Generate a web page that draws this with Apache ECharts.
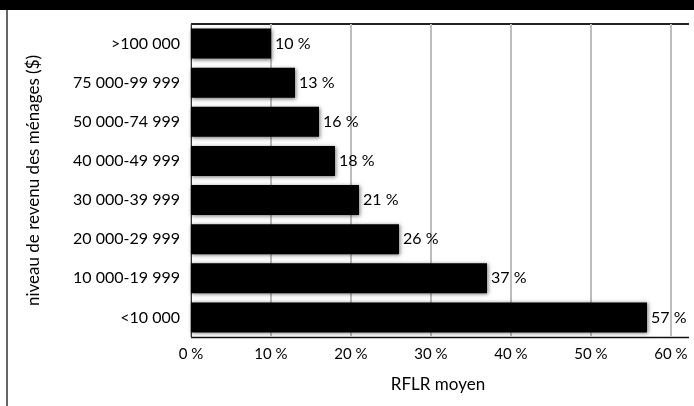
<!DOCTYPE html>
<html>
<head>
<meta charset="utf-8">
<style>
  html, body { margin: 0; padding: 0; background: #fff; }
  #chart { width: 694px; height: 406px; }
</style>
<script src="https://cdn.jsdelivr.net/npm/echarts@6/dist/echarts.min.js"></script>
</head>
<body>
<div id="chart"></div>
<script>
// income brackets, top to bottom
var categories = [">100 000", "75 000-99 999", "50 000-74 999", "40 000-49 999",
  "30 000-39 999", "20 000-29 999", "10 000-19 999", "<10 000"];
// average RFLR (%)
var rflr = [10, 13, 16, 18, 21, 26, 37, 57];
var xTicks = [0, 10, 20, 30, 40, 50, 60];

var FONT = "Lato";

var chart = echarts.init(document.getElementById("chart"));
chart.setOption({
  backgroundColor: "#fff",
  animation: false,
  textStyle: { fontFamily: FONT, color: "#000" },
  grid: { left: 191, right: 23, top: 24, bottom: 69 },
  graphic: [
    { type: "rect", shape: { x: 0, y: 0, width: 694, height: 10 }, style: { fill: "#000" } },
    { type: "rect", shape: { x: 6, y: 10, width: 2, height: 396 }, style: { fill: "#666" } },
    // frame lines run a little past the 60 % tick
    { type: "line", shape: { x1: 191, y1: 24, x2: 689, y2: 24 }, style: { stroke: "#222", lineWidth: 2 } },
    { type: "line", shape: { x1: 191, y1: 337.5, x2: 689, y2: 337.5 }, style: { stroke: "#111", lineWidth: 1.5 } },
    { type: "text", x: 438, y: 376, style: { text: "RFLR moyen", font: "17px " + FONT, fill: "#000", textAlign: "center", textVerticalAlign: "top" } }
  ],
  xAxis: {
    type: "value",
    min: xTicks[0],
    max: xTicks[xTicks.length - 1],
    interval: 10,
    axisLine: { show: false },
    axisTick: { show: false },
    axisLabel: { formatter: "{value} %", fontSize: 15, color: "#000", margin: 10, fontFamily: FONT },
    splitLine: { show: true, lineStyle: { color: "#bdbdbd", width: 2 } }
  },
  yAxis: {
    type: "category",
    data: categories,
    inverse: true,
    name: "niveau de revenu des ménages ($)",
    nameLocation: "middle",
    nameGap: 149,
    nameTextStyle: { fontSize: 17, color: "#000", fontFamily: FONT },
    axisLine: { show: true, lineStyle: { color: "#333", width: 1 } },
    axisTick: { show: false },
    axisLabel: { fontSize: 16, color: "#000", margin: 11, fontFamily: FONT }
  },
  series: [{
    type: "bar",
    data: rflr,
    barWidth: 30,
    itemStyle: {
      color: "#000",
      shadowColor: "rgba(0,0,0,0.55)",
      shadowBlur: 4,
      shadowOffsetX: 1,
      shadowOffsetY: 1
    },
    label: {
      show: true,
      position: "right",
      distance: 4,
      formatter: "{c} %",
      fontSize: 16,
      color: "#000",
      fontFamily: FONT
    }
  }]
});
</script>
</body>
</html>
